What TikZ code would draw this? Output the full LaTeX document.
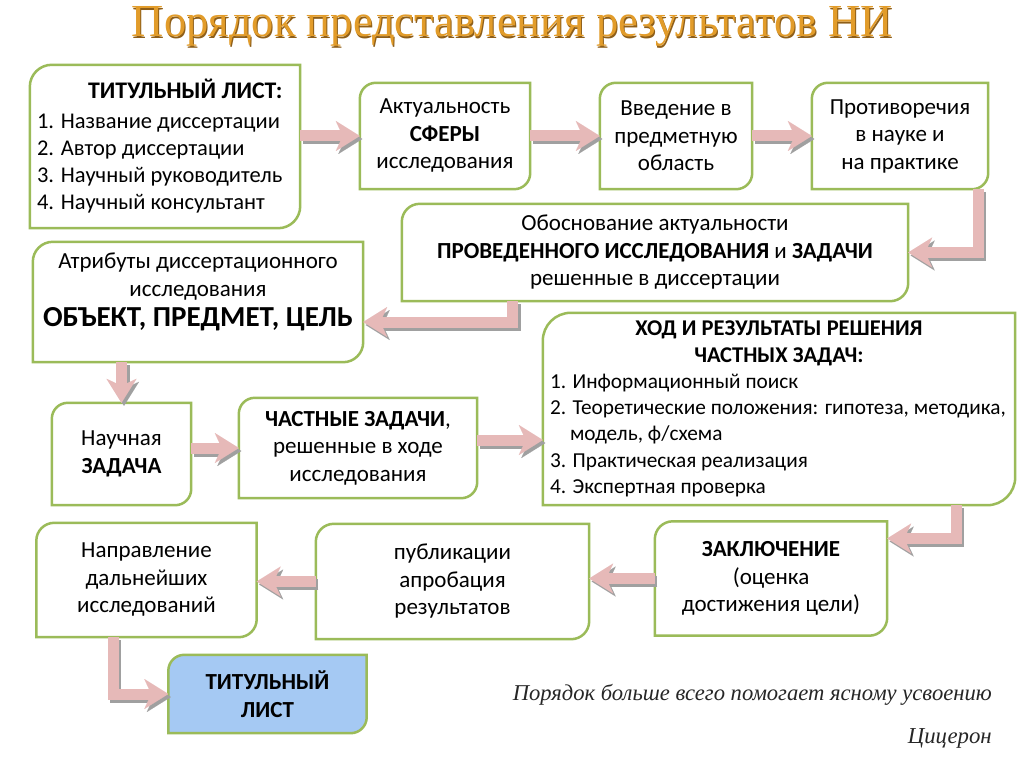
\documentclass[tikz,border=0pt]{standalone}
\usepackage{fontspec}
\setmainfont{Carlito}
\newfontfamily\ttlfont{Liberation Serif}
\usepackage{graphicx}
\usetikzlibrary{arrows.meta,calc,backgrounds}
\definecolor{boxgreen}{HTML}{9BBB59}
\definecolor{arrpink}{HTML}{E6B9B8}
\definecolor{arrshadow}{HTML}{A0A0A0}
\definecolor{titlegold}{HTML}{E29C2A}
\definecolor{titledark}{HTML}{8E5E18}
\definecolor{blueface}{HTML}{A5C9F3}
\definecolor{quotegray}{HTML}{262626}
\tikzset{
  boxnode/.style={draw=none, inner sep=0pt, align=center, font=\fontsize{23}{27.5}\selectfont},
  boxline/.style={draw=boxgreen, line width=2.5pt, fill=white},
  arrbody/.style={draw=arrpink, line width=11pt, line cap=butt, line join=miter,
    -{Stealth[length=24pt,width=30pt,inset=7pt,line width=0.01pt]}},
  arrshade/.style={arrbody, draw=arrshadow, transform canvas={shift={(2.5pt,-3pt)}}},
}
\newcommand\dbox[3][14pt]{%
  \draw[boxline,#3] (#2.south west) -- ([yshift=-#1]#2.north west)
    arc[start angle=180,end angle=90,radius=#1] -- (#2.north east)
    -- ([yshift=#1]#2.south east) arc[start angle=0,end angle=-90,radius=#1] -- cycle;}
\newcommand\conn[1]{\draw[arrshade] #1; \draw[arrbody] #1;}
\newcommand\normspaces{\spaceskip=0pt\relax\xspaceskip=0pt\relax}
\begin{document}
\begin{tikzpicture}[x=1pt,y=1pt]
\useasboundingbox (0,0) rectangle (1024,-767);

% title
\node[anchor=base, inner sep=0pt, text=titledark] (ttlsh) at (513.5,-38.5)
  {\resizebox{761pt}{30pt}{\ttlfont Порядок представления результатов НИ}};
\node[anchor=base, inner sep=0pt, text=titlegold] (ttl) at (512.5,-37)
  {\resizebox{761pt}{30pt}{\ttlfont Порядок представления результатов НИ}};

% boxes
\node[boxnode, minimum width=270pt, minimum height=163pt, text width=256pt, align=left,
      font=\fontsize{22.5}{27}\selectfont] (B1) at (165,-146.5)
  {\normspaces\hspace*{51pt}{\fontsize{23.8}{27}\selectfont\textbf{ТИТУЛЬНЫЙ ЛИСТ:}}\\[3pt]
   1. Название диссертации\\
   2. Автор диссертации\\
   3. Научный руководитель\\
   4. Научный консультант};
\node[boxnode, minimum width=170pt, minimum height=106pt] (B2) at (445,-136)
  {Актуальность\\ \textbf{СФЕРЫ}\\ исследования};
\node[boxnode, minimum width=152pt, minimum height=106pt] (B3) at (676,-136)
  {Введение в\\ предметную\\ область};
\node[boxnode, minimum width=176pt, minimum height=106pt] (B4) at (900,-136)
  {Противоречия\\ в науке и\\ на практике};
\node[boxnode, minimum width=506pt, minimum height=97pt] (B5) at (655,-252.5)
  {Обоснование актуальности\\ \textbf{ПРОВЕДЕННОГО ИССЛЕДОВАНИЯ} и \textbf{ЗАДАЧИ}\\ решенные в диссертации};
\node[boxnode, minimum width=330pt, minimum height=120pt] (B6) at (198,-302)
  {\raisebox{10pt}[\height][\depth]{\begin{tabular}{@{}c@{}}Атрибуты диссертационного\\ исследования\\[2.5pt]
   {\fontsize{29}{30}\selectfont\bfseries ОБЪЕКТ, ПРЕДМЕТ, ЦЕЛЬ}\end{tabular}}};
\node[boxnode, minimum width=139pt, minimum height=102pt] (B7) at (121.5,-454)
  {Научная\\ \textbf{ЗАДАЧА}};
\node[boxnode, minimum width=238pt, minimum height=100pt] (B8) at (358,-448)
  {\textbf{ЧАСТНЫЕ ЗАДАЧИ},\\ решенные в ходе\\ исследования};
\node[boxnode, minimum width=472pt, minimum height=192pt, text width=458pt, align=left,
      font=\fontsize{21.3}{26.3}\selectfont] (B9) at (779,-409)
  {\normspaces\makebox[458pt][c]{\fontsize{22.5}{26.3}\selectfont\textbf{ХОД И РЕЗУЛЬТАТЫ РЕШЕНИЯ}}\\
   \makebox[458pt][c]{\fontsize{22.5}{26.3}\selectfont\textbf{ЧАСТНЫХ ЗАДАЧ:}}\\
   1. Информационный поиск\\
   2. Теоретические положения: гипотеза, методика,\\
   \hspace*{20pt}модель, ф/схема\\
   3. Практическая реализация\\
   4. Экспертная проверка};
\node[boxnode, minimum width=232pt, minimum height=114pt] (B10) at (771,-578.5)
  {\textbf{ЗАКЛЮЧЕНИЕ}\\ (оценка\\ достижения цели)};
\node[boxnode, minimum width=273pt, minimum height=115pt] (B11) at (452.5,-581.5)
  {публикации\\ апробация\\ результатов};
\node[boxnode, minimum width=220pt, minimum height=114pt] (B12) at (146.5,-580)
  {Направление\\ дальнейших\\ исследований};
\node[boxnode, minimum width=198pt, minimum height=78pt] (B13) at (267.5,-694)
  {\textbf{ТИТУЛЬНЫЙ}\\ \textbf{ЛИСТ}};

% quote
\node[anchor=base east, inner sep=0pt, text=quotegray] (q1) at (992,-700)
  {\resizebox{479pt}{!}{\ttlfont\itshape Порядок больше всего помогает ясному усвоению}};
\node[anchor=base east, inner sep=0pt, text=quotegray] (q2) at (992,-743)
  {\resizebox{84pt}{!}{\ttlfont\itshape Цицерон}};

\begin{scope}[on background layer]
  \fill[white] (0,0) rectangle (1024,-767);
  \dbox[22pt]{B1}{}
  \dbox[16pt]{B2}{}
  \dbox[16pt]{B3}{}
  \dbox[16pt]{B4}{}
  \dbox[18pt]{B5}{}
  \dbox[20pt]{B6}{}
  \dbox[16pt]{B7}{}
  \dbox[16pt]{B8}{}
  \dbox[28pt]{B9}{}
  \dbox[18pt]{B10}{}
  \dbox[18pt]{B11}{}
  \dbox[18pt]{B12}{}
  \dbox[16pt]{B13}{fill=blueface}
\end{scope}

% connectors
\coordinate (a89) at ($(B8.east)+(0,8)$);
\coordinate (c910) at ($(B10.east)+(0,40)$);
\conn{(B1.east |- B2.west) -- (B2.west)}
\conn{(B2.east) -- (B3.west)}
\conn{(B3.east) -- (B4.west)}
\conn{([xshift=-10pt]B4.south east) |- (B5.east)}
\conn{([xshift=111pt]B5.south west) |- ([yshift=-20pt]B6.east)}
\conn{(B6.south -| B7.north) -- (B7.north)}
\conn{(B7.east |- B8.west) -- (B8.west)}
\conn{(a89) -- (a89 -| B9.west)}
\conn{([xshift=-59pt]B9.south east) |- (c910)}
\conn{(B10.west) -- (B10.west -| B11.east)}
\conn{(B11.west) -- (B11.west -| B12.east)}
\conn{([xshift=77pt]B12.south west) |- (B13.west)}
\end{tikzpicture}
\end{document}
